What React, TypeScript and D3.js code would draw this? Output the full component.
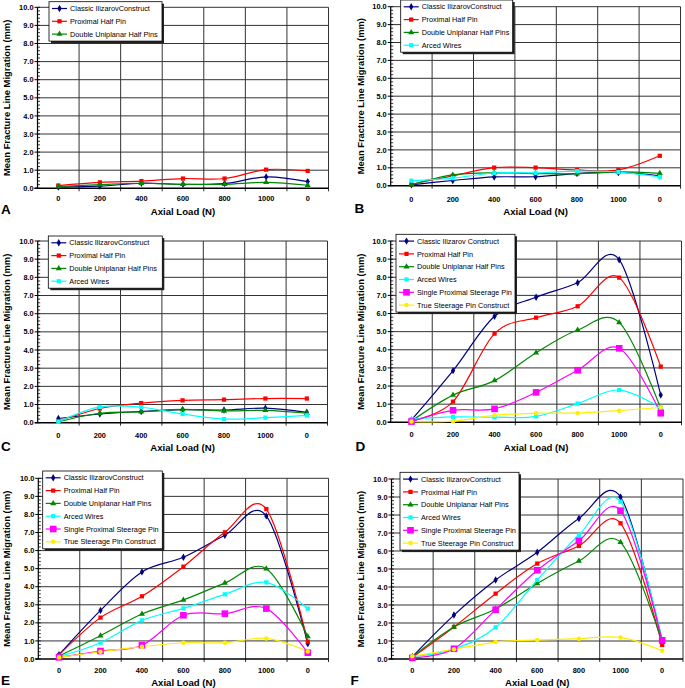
import React from "react";
import * as d3 from "d3";

// ---------- data ----------
const categories = ["0", "200", "400", "600", "800", "1000", "0"];
const yTickValues = [0, 1, 2, 3, 4, 5, 6, 7, 8, 9, 10];
const yTickLabels = ["0.0", "1.0", "2.0", "3.0", "4.0", "5.0", "6.0", "7.0", "8.0", "9.0", "10.0"];
const yAxisTitle = "Mean Fracture Line Migration (mm)";
const xAxisTitle = "Axial Load (N)";

// Panel A
const aClassic = [0.07, 0.12, 0.28, 0.22, 0.26, 0.63, 0.37];
const aProximal = [0.15, 0.33, 0.4, 0.54, 0.54, 1.03, 0.96];
const aDouble = [0.1, 0.2, 0.28, 0.22, 0.22, 0.33, 0.17];
// Panel B
const bClassic = [0.05, 0.29, 0.49, 0.5, 0.68, 0.74, 0.55];
const bProximal = [0.08, 0.55, 1.01, 1.01, 0.88, 0.88, 1.67];
const bDouble = [0.05, 0.6, 0.72, 0.68, 0.67, 0.77, 0.69];
const bArced = [0.28, 0.42, 0.71, 0.72, 0.81, 0.76, 0.49];
// Panel C
const cClassic = [0.23, 0.48, 0.62, 0.72, 0.7, 0.8, 0.57];
const cProximal = [0.08, 0.78, 1.08, 1.23, 1.27, 1.33, 1.33];
const cDouble = [0.05, 0.52, 0.6, 0.73, 0.65, 0.68, 0.52];
const cArced = [0.05, 0.87, 0.85, 0.48, 0.2, 0.28, 0.4];
// Panel D
const dClassic = [0.13, 2.85, 5.85, 6.9, 7.7, 8.97, 1.5];
const dProximal = [0.09, 1.14, 4.89, 5.77, 6.4, 7.98, 3.07];
const dDouble = [0.07, 1.5, 2.3, 3.84, 5.09, 5.51, 0.77];
const dArced = [0.18, 0.3, 0.28, 0.33, 1.03, 1.78, 0.8];
const dSingle = [0.04, 0.66, 0.74, 1.65, 2.87, 4.08, 0.5];
const dTrue = [0.04, 0.06, 0.39, 0.5, 0.51, 0.64, 0.83];
// Panel E
const eClassic = [0.24, 2.69, 4.82, 5.63, 6.85, 7.92, 0.85];
const eProximal = [0.22, 2.29, 3.47, 5.11, 7.01, 8.3, 0.96];
const eDouble = [0.17, 1.29, 2.49, 3.27, 4.2, 5.0, 1.25];
const eArced = [0.13, 0.9, 2.14, 2.8, 3.58, 4.24, 2.79];
const eSingle = [0.09, 0.44, 0.76, 2.42, 2.51, 2.79, 0.35];
const eTrue = [0.09, 0.4, 0.68, 0.9, 0.9, 1.14, 0.42];
// Panel F
const fClassic = [0.13, 2.44, 4.39, 5.93, 7.81, 9.0, 0.95];
const fProximal = [0.09, 1.78, 3.63, 5.3, 6.28, 7.54, 0.78];
const fDouble = [0.13, 1.78, 2.78, 4.2, 5.44, 6.48, 0.93];
const fArced = [0.13, 0.56, 1.76, 4.39, 6.89, 8.74, 1.11];
const fSingle = [0.06, 0.57, 2.74, 4.93, 6.57, 8.24, 1.04];
const fTrue = [0.15, 0.54, 0.94, 1.06, 1.13, 1.2, 0.46];

// ---------- series styles ----------
type SeriesStyle = { color: string; symbol: d3.SymbolType; size: number };
const styles: Record<string, SeriesStyle> = {
  classic: { color: "#000080", symbol: d3.symbolDiamond, size: 16 },
  proximal: { color: "#FF0000", symbol: d3.symbolSquare, size: 18 },
  double: { color: "#008800", symbol: d3.symbolTriangle, size: 16 },
  arced: { color: "#00FFFF", symbol: d3.symbolSquare, size: 18 },
  single: { color: "#FF00FF", symbol: d3.symbolSquare, size: 44 },
  true: { color: "#FFEE00", symbol: d3.symbolCircle, size: 16 },
};

type Series = { key: string; label: string; values: number[] };
type Panel = {
  letter: string;
  series: Series[];
  left: number; right: number; top: number; bottom: number;
  legend: { x: number; y: number; w: number };
  tickY: number; titleY: number; letterX: number; letterY: number; yTitleX: number;
};

const panels: Panel[] = [
  {
    letter: "A",
    series: [
      { key: "classic", label: "Classic IlizarovConstruct", values: aClassic },
      { key: "proximal", label: "Proximal Half Pin", values: aProximal },
      { key: "double", label: "Double Uniplanar Half Pins", values: aDouble },
    ],
    left: 37.5, right: 328.5, top: 7.3, bottom: 188.3,
    legend: { x: 49, y: 1.7, w: 113 },
    tickY: 200.5, titleY: 214.5, letterX: 1, letterY: 213.5, yTitleX: 10,
  },
  {
    letter: "B",
    series: [
      { key: "classic", label: "Classic IlizarovConstruct", values: bClassic },
      { key: "proximal", label: "Proximal Half Pin", values: bProximal },
      { key: "double", label: "Double Uniplanar Half Pins", values: bDouble },
      { key: "arced", label: "Arced Wires", values: bArced },
    ],
    left: 390.7, right: 680.5, top: 6.7, bottom: 185.7,
    legend: { x: 400.7, y: 0, w: 112 },
    tickY: 201.8, titleY: 214.5, letterX: 354.5, letterY: 212.5, yTitleX: 364,
  },
  {
    letter: "C",
    series: [
      { key: "classic", label: "Classic IlizarovConstruct", values: cClassic },
      { key: "proximal", label: "Proximal Half Pin", values: cProximal },
      { key: "double", label: "Double Uniplanar Half Pins", values: cDouble },
      { key: "arced", label: "Arced Wires", values: cArced },
    ],
    left: 37.7, right: 327.5, top: 241, bottom: 422.7,
    legend: { x: 48.3, y: 236, w: 114 },
    tickY: 437.8, titleY: 451, letterX: 1, letterY: 450.5, yTitleX: 10,
  },
  {
    letter: "D",
    series: [
      { key: "classic", label: "Classic Ilizarov Construct", values: dClassic },
      { key: "proximal", label: "Proximal Half Pin", values: dProximal },
      { key: "double", label: "Double Uniplanar Half Pins", values: dDouble },
      { key: "arced", label: "Arced Wires", values: dArced },
      { key: "single", label: "Single Proximal Steerage Pin", values: dSingle },
      { key: "true", label: "True Steerage Pin Construct", values: dTrue },
    ],
    left: 390.7, right: 681.5, top: 241, bottom: 422.3,
    legend: { x: 396, y: 234.3, w: 119 },
    tickY: 437.2, titleY: 451, letterX: 355.5, letterY: 450.5, yTitleX: 364,
  },
  {
    letter: "E",
    series: [
      { key: "classic", label: "Classic IlizarovConstruct", values: eClassic },
      { key: "proximal", label: "Proximal Half Pin", values: eProximal },
      { key: "double", label: "Double Uniplanar Half Pins", values: eDouble },
      { key: "arced", label: "Arced Wires", values: eArced },
      { key: "single", label: "Single Proximal Steerage Pin", values: eSingle },
      { key: "true", label: "True Steerage Pin Construct", values: eTrue },
    ],
    left: 38.3, right: 328.5, top: 478.3, bottom: 659,
    legend: { x: 42.7, y: 471, w: 119.6 },
    tickY: 673.3, titleY: 685.5, letterX: 1, letterY: 685, yTitleX: 10,
  },
  {
    letter: "F",
    series: [
      { key: "classic", label: "Classic IlizarovConstruct", values: fClassic },
      { key: "proximal", label: "Proximal Half Pin", values: fProximal },
      { key: "double", label: "Double Uniplanar Half Pins", values: fDouble },
      { key: "arced", label: "Arced Wires", values: fArced },
      { key: "single", label: "Single Proximal Steerage Pin", values: fSingle },
      { key: "true", label: "True Steerage Pin Construct", values: fTrue },
    ],
    left: 391.5, right: 683, top: 479, bottom: 659,
    legend: { x: 400, y: 472.3, w: 119 },
    tickY: 673.3, titleY: 685.5, letterX: 350.5, letterY: 685, yTitleX: 364,
  },
];

const FONT = "'Liberation Sans', Arial, Helvetica, sans-serif";
const GRID = "#333333";

function PanelChart({ p }: { p: Panel }) {
  const idx = categories.map((_, i) => String(i));
  const x = d3.scaleBand<string>().domain(idx).range([p.left, p.right]).padding(0);
  const y = d3.scaleLinear().domain([0, 10]).range([p.bottom, p.top]);
  const line = d3
    .line<number>()
    .x((_, i) => (x(String(i)) as number) + x.bandwidth() / 2)
    .y((d) => y(d))
    .curve(d3.curveCardinal.tension(0));
  const boundaries = idx.map((k) => (x(k) as number) + x.bandwidth());
  const minor = d3.range(0, 10.001, 0.2);
  const cx = (p.left + p.right) / 2;
  const cy = (p.top + p.bottom) / 2;
  const rowH = 12.8;
  const legH = p.series.length * rowH + 1;

  return (
    <g>
      {/* horizontal gridlines */}
      {yTickValues.slice(1).map((v) => (
        <line key={"h" + v} x1={p.left} x2={p.right} y1={y(v)} y2={y(v)} stroke={GRID} strokeWidth={1} />
      ))}
      {/* vertical gridlines */}
      {boundaries.map((bx, i) => (
        <line key={"v" + i} x1={bx} x2={bx} y1={p.top} y2={p.bottom + 3} stroke={GRID} strokeWidth={1} />
      ))}
      {/* y axis */}
      <line x1={p.left} x2={p.left} y1={p.top} y2={p.bottom} stroke="#000" strokeWidth={1.2} />
      {minor.map((v, i) => (
        <line key={"m" + i} x1={p.left} x2={p.left + 2.5} y1={y(v)} y2={y(v)} stroke="#000" strokeWidth={0.8} />
      ))}
      {yTickValues.map((v, i) => (
        <g key={"yt" + v}>
          <line x1={p.left - 3} x2={p.left} y1={y(v)} y2={y(v)} stroke="#000" strokeWidth={1} />
          <text x={p.left - 4} y={y(v) + 2.6} textAnchor="end" fontFamily={FONT} fontWeight="bold" fontSize={7.4} fill="#000">
            {yTickLabels[i]}
          </text>
        </g>
      ))}
      {/* x axis */}
      <line x1={p.left - 3} x2={p.right} y1={p.bottom} y2={p.bottom} stroke="#000" strokeWidth={1.5} />
      {categories.map((c, i) => (
        <text key={"xt" + i} x={(x(String(i)) as number) + x.bandwidth() / 2} y={p.tickY} textAnchor="middle"
          fontFamily={FONT} fontWeight="bold" fontSize={7.4} fill="#000">
          {c}
        </text>
      ))}
      {/* series */}
      {p.series.map((s) => (
        <path key={"l" + s.key} d={line(s.values) || ""} fill="none" stroke={styles[s.key].color} strokeWidth={1.2} />
      ))}
      {p.series.map((s) =>
        s.values.map((v, i) => (
          <path key={"mk" + s.key + i}
            d={d3.symbol().type(styles[s.key].symbol).size(styles[s.key].size)() || ""}
            transform={`translate(${(x(String(i)) as number) + x.bandwidth() / 2},${y(v)})`}
            fill={styles[s.key].color} />
        ))
      )}
      {/* legend */}
      <rect x={p.legend.x + 2} y={p.legend.y + 2} width={p.legend.w} height={legH} fill="#222" />
      <rect x={p.legend.x} y={p.legend.y} width={p.legend.w} height={legH} fill="#fff" stroke="#000" strokeWidth={0.8} />
      {p.series.map((s, i) => {
        const ry = p.legend.y + 6.8 + i * rowH;
        const st = styles[s.key];
        return (
          <g key={"lg" + s.key}>
            <line x1={p.legend.x + 3} x2={p.legend.x + 18} y1={ry} y2={ry} stroke={st.color} strokeWidth={1.2} />
            <path d={d3.symbol().type(st.symbol).size(st.size)() || ""} transform={`translate(${p.legend.x + 10.5},${ry})`} fill={st.color} />
            <text x={p.legend.x + 21} y={ry + 2.6} fontFamily={FONT} fontSize={7.3} fill="#000">
              {s.label}
            </text>
          </g>
        );
      })}
      {/* titles */}
      <text x={cx} y={p.titleY} textAnchor="middle" fontFamily={FONT} fontWeight="bold" fontSize={9.6} fill="#000">
        {xAxisTitle}
      </text>
      <text transform={`translate(${p.yTitleX},${cy}) rotate(-90)`} textAnchor="middle" fontFamily={FONT}
        fontWeight="bold" fontSize={9.4} fill="#000">
        {yAxisTitle}
      </text>
      <text x={p.letterX} y={p.letterY} fontFamily={FONT} fontWeight="bold" fontSize={13.5} fill="#000">
        {p.letter}
      </text>
    </g>
  );
}

export default function App() {
  return (
    <svg width={685} height={688} style={{ position: "absolute", left: 0, top: 0, background: "#fff" }}>
      <rect x={0} y={0} width={685} height={688} fill="#fff" />
      {panels.map((p) => (
        <PanelChart key={p.letter} p={p} />
      ))}
    </svg>
  );
}
